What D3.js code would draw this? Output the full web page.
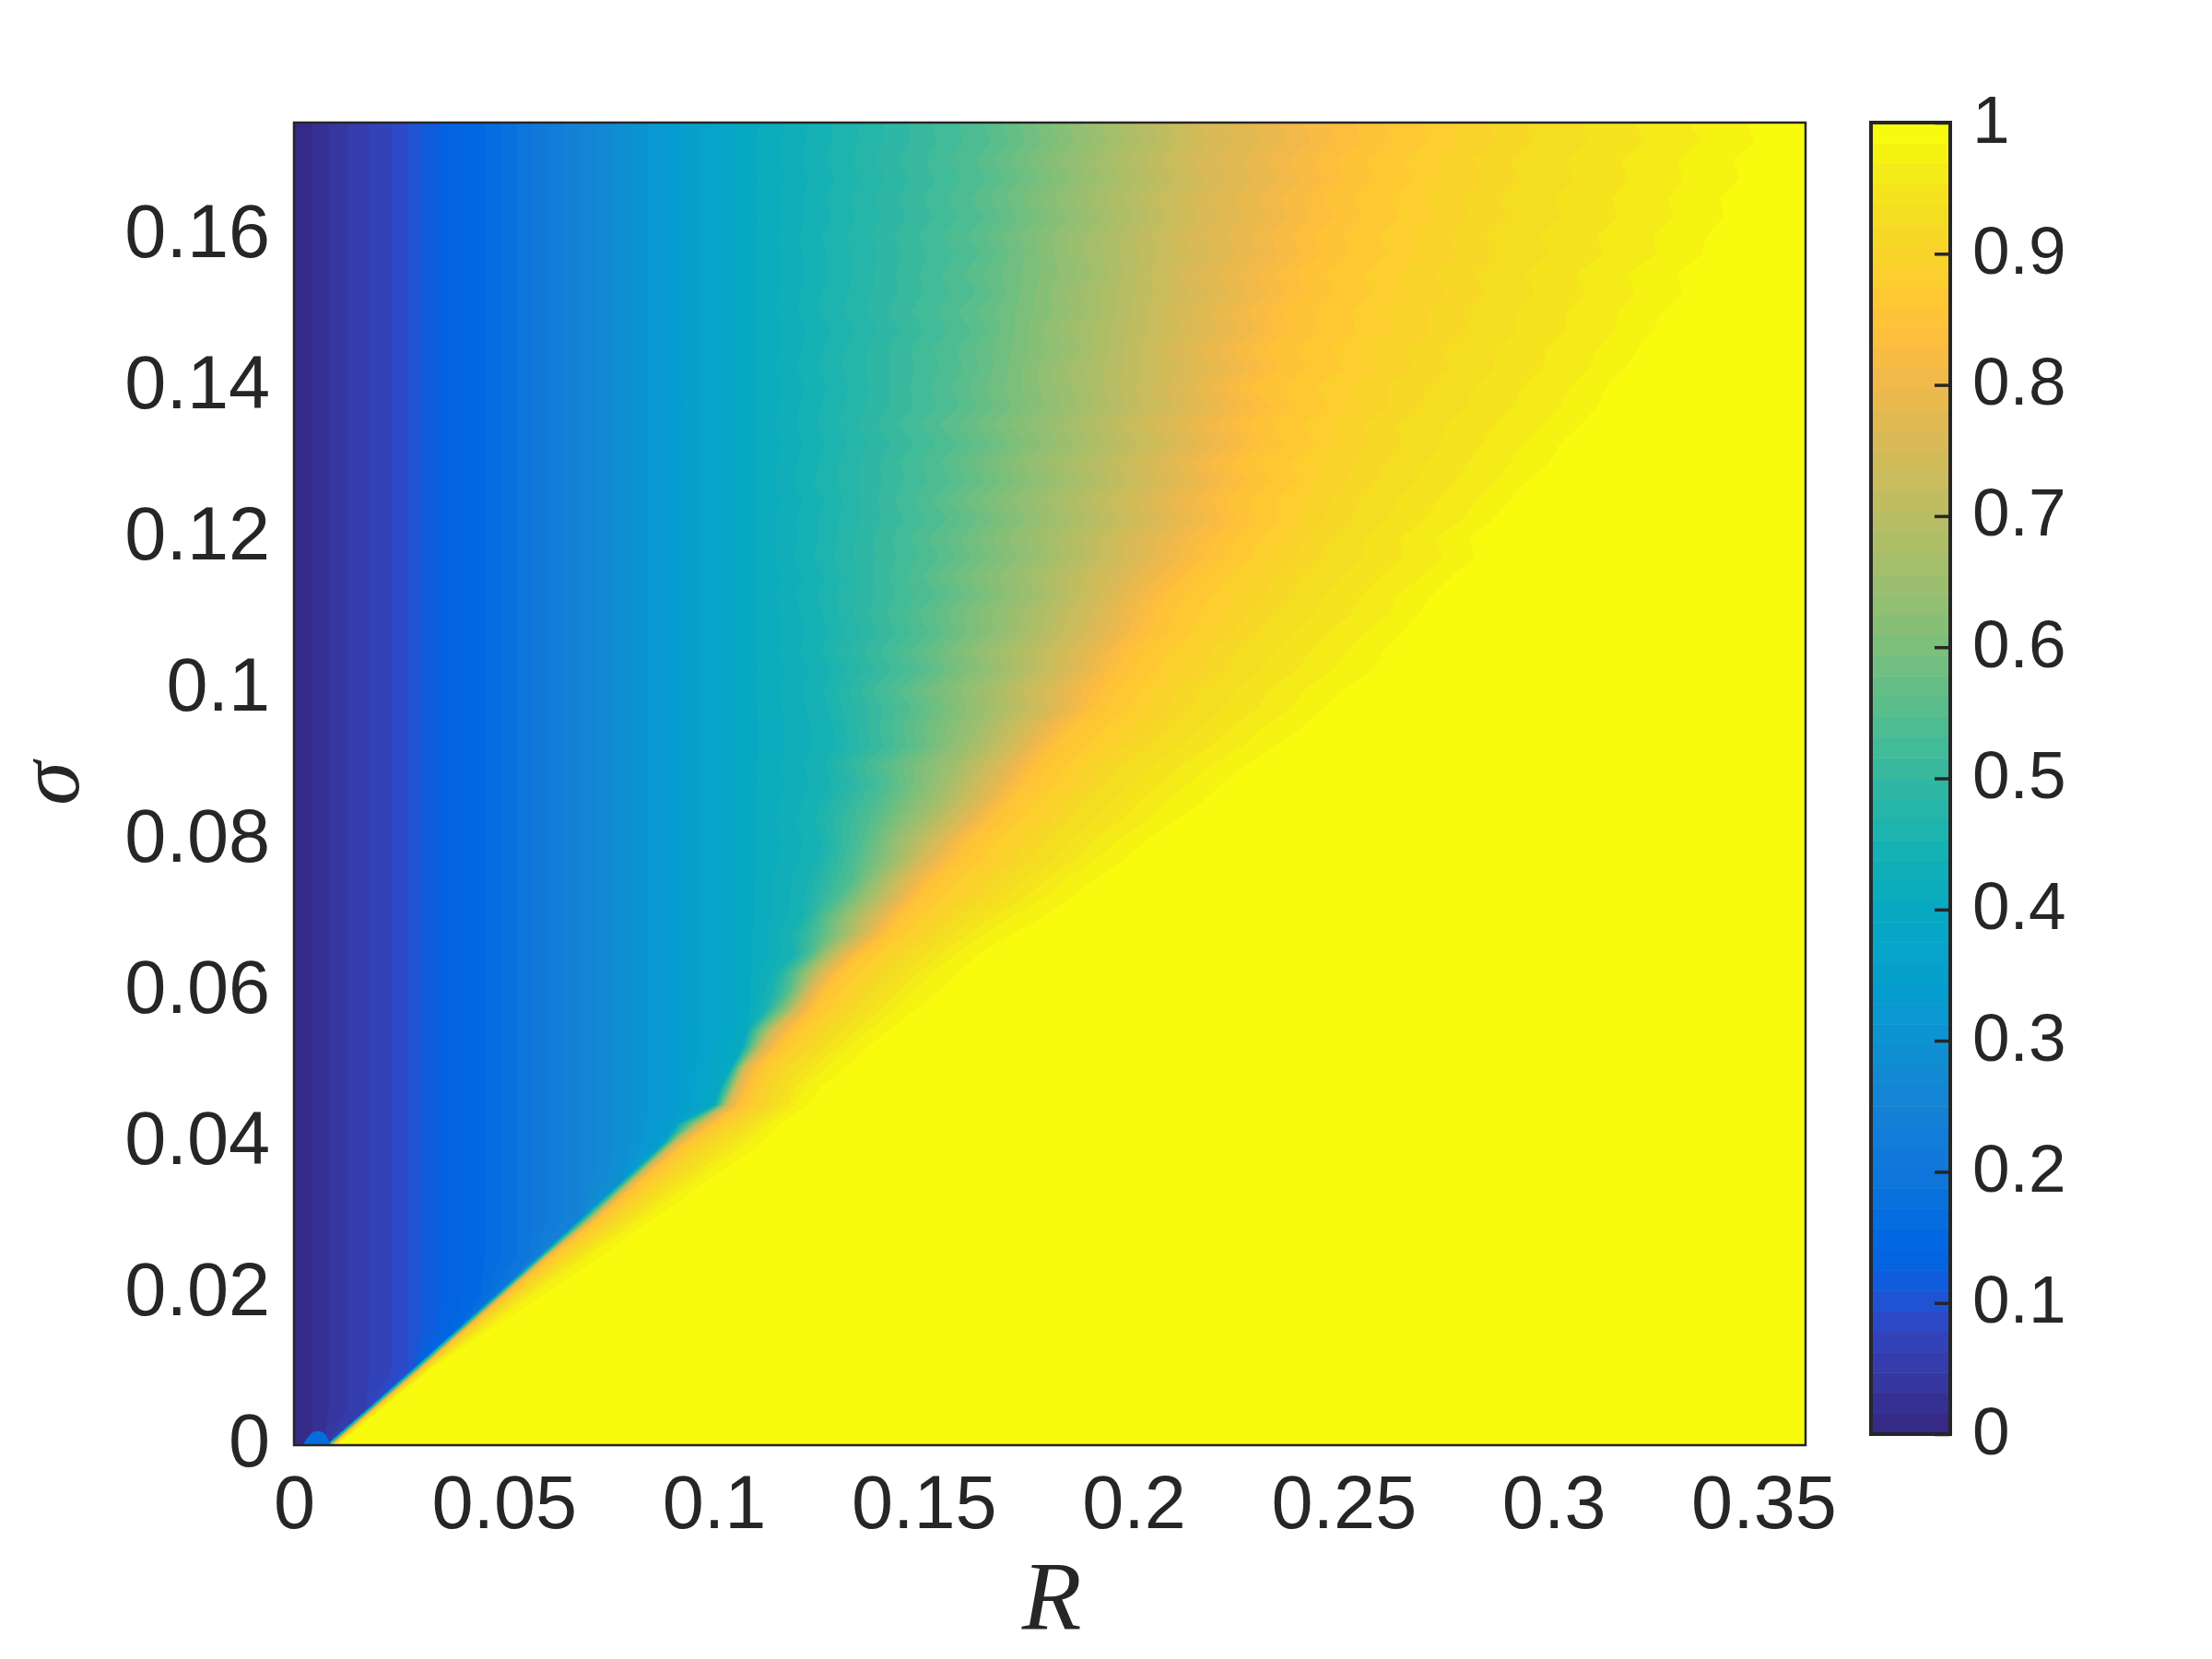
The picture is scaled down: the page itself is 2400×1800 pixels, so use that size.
<!DOCTYPE html>
<html>
<head>
<meta charset="utf-8">
<script src="https://d3js.org/d3.v7.min.js"></script>
<style>
html, body { margin: 0; padding: 0; background: #fff; }
text { font-family: "Liberation Sans", Arial, sans-serif; fill: #262626; }
.math { font-family: "Liberation Serif", serif; font-style: italic; }
</style>
</head>
<body>
<div id="chart"></div>
<script>
const xTicks = [0, 0.05, 0.1, 0.15, 0.2, 0.25, 0.3, 0.35];
const xTickLabels = ["0", "0.05", "0.1", "0.15", "0.2", "0.25", "0.3", "0.35"];
const yTicks = [0, 0.02, 0.04, 0.06, 0.08, 0.1, 0.12, 0.14, 0.16];
const yTickLabels = ["0", "0.02", "0.04", "0.06", "0.08", "0.1", "0.12", "0.14", "0.16"];
const barTicks = [0, 0.1, 0.2, 0.3, 0.4, 0.5, 0.6, 0.7, 0.8, 0.9, 1];
const barTickLabels = ["0", "0.1", "0.2", "0.3", "0.4", "0.5", "0.6", "0.7", "0.8", "0.9", "1"];

// parula, 64 steps
const parula = [
[0.2081,0.1663,0.5292],[0.2116,0.1898,0.5777],[0.2123,0.2138,0.6270],[0.2081,0.2386,0.6771],
[0.1959,0.2645,0.7279],[0.1707,0.2919,0.7792],[0.1253,0.3242,0.8303],[0.0591,0.3598,0.8683],
[0.0117,0.3875,0.8820],[0.0060,0.4086,0.8828],[0.0165,0.4266,0.8786],[0.0329,0.4430,0.8720],
[0.0498,0.4586,0.8641],[0.0629,0.4737,0.8554],[0.0723,0.4887,0.8467],[0.0779,0.5040,0.8384],
[0.0793,0.5200,0.8312],[0.0749,0.5375,0.8263],[0.0641,0.5570,0.8240],[0.0488,0.5772,0.8228],
[0.0343,0.5966,0.8199],[0.0265,0.6137,0.8135],[0.0239,0.6287,0.8038],[0.0231,0.6418,0.7913],
[0.0228,0.6535,0.7768],[0.0267,0.6642,0.7607],[0.0384,0.6743,0.7436],[0.0590,0.6838,0.7254],
[0.0843,0.6928,0.7062],[0.1133,0.7015,0.6859],[0.1453,0.7098,0.6646],[0.1801,0.7177,0.6424],
[0.2178,0.7250,0.6193],[0.2586,0.7317,0.5954],[0.3022,0.7376,0.5712],[0.3482,0.7424,0.5473],
[0.3953,0.7459,0.5244],[0.4420,0.7481,0.5033],[0.4871,0.7491,0.4840],[0.5300,0.7491,0.4661],
[0.5709,0.7485,0.4494],[0.6099,0.7473,0.4337],[0.6473,0.7456,0.4188],[0.6834,0.7435,0.4044],
[0.7184,0.7411,0.3905],[0.7525,0.7384,0.3768],[0.7858,0.7356,0.3633],[0.8185,0.7327,0.3498],
[0.8507,0.7299,0.3360],[0.8824,0.7274,0.3217],[0.9139,0.7258,0.3063],[0.9450,0.7261,0.2886],
[0.9739,0.7314,0.2666],[0.9938,0.7455,0.2403],[0.9990,0.7653,0.2164],[0.9955,0.7861,0.1967],
[0.9880,0.8066,0.1794],[0.9789,0.8271,0.1633],[0.9697,0.8481,0.1475],[0.9626,0.8705,0.1309],
[0.9589,0.8949,0.1132],[0.9598,0.9218,0.0948],[0.9661,0.9514,0.0755],[0.9763,0.9831,0.0538]
];

// value against R where the surface only depends on R (left part)
const profileLevels = [0, 0.02, 0.04, 0.06, 0.08, 0.10, 0.12, 0.15, 0.20, 0.25, 0.30, 0.35, 0.40];
const profileR = [0, 0.0055, 0.0105, 0.017, 0.024, 0.0285, 0.033, 0.044, 0.056, 0.068, 0.081, 0.094, 0.108];

// sigma of each row
const sigmaRows = [0,0.005,0.01,0.015,0.02,0.025,0.03,0.035,
0.04,0.0425,0.045,0.0475,0.05,0.0525,0.055,0.0575,0.06,0.0625,0.065,0.0675,0.07,0.0725,0.075,0.0775,
0.08,0.0825,0.085,0.0875,0.09,0.0925,0.095,0.0975,0.1,0.1025,0.105,0.1075,0.11,0.1125,0.115,0.1175,
0.12,0.1225,0.125,0.1275,0.13,0.1325,0.135,0.1375,0.14,0.1425,0.145,0.1475,0.15,0.1525,0.155,0.1575,
0.16,0.1625,0.165,0.1675,0.17,0.1725,0.175];

// R at which each row reaches a given value
const iso45 = [0.0082,0.0186,0.0288,0.0389,0.0490,0.0590,0.0690,0.0788,
0.0885,0.092,0.1005,0.102,0.1045,0.107,0.1085,0.112,0.1135,0.115,0.119,0.118,0.121,0.1215,0.122,0.1245,
0.1255,0.1235,0.125,0.1275,0.126,0.1285,0.128,0.1265,0.1255,0.1275,0.1245,0.1265,0.125,0.1235,0.1255,0.1225,
0.124,0.1235,0.1255,0.1225,0.124,0.1255,0.1235,0.1245,0.126,0.1235,0.125,0.1265,0.124,0.1245,0.1265,0.1255,
0.1245,0.1265,0.1255,0.1275,0.1255,0.1265,0.127];
const iso55 = [0.0085,0.0189,0.0292,0.0393,0.0494,0.0595,0.0698,0.0795,
0.0893,0.094,0.1015,0.1035,0.1055,0.1085,0.1105,0.1145,0.118,0.119,0.1235,0.1255,0.1265,0.1305,0.1335,0.1345,
0.136,0.1375,0.14,0.1425,0.1405,0.1465,0.1455,0.1475,0.1445,0.15,0.1475,0.152,0.1495,0.1535,0.1505,0.1545,
0.152,0.1565,0.1525,0.1575,0.155,0.159,0.1545,0.1595,0.1575,0.1605,0.1585,0.1625,0.159,0.1635,0.1605,0.1645,
0.1615,0.1655,0.1625,0.166,0.1635,0.167,0.1655];
const iso65 = [0.0087,0.0191,0.0295,0.0396,0.0497,0.0598,0.0705,0.0802,
0.09,0.0955,0.1025,0.1045,0.1065,0.11,0.1125,0.1175,0.1205,0.1225,0.1265,0.131,0.1325,0.1365,0.1395,0.1435,
0.1445,0.1485,0.152,0.1545,0.1565,0.1605,0.1625,0.1645,0.1635,0.1685,0.1665,0.1715,0.172,0.1755,0.1735,0.1785,
0.1765,0.1805,0.1775,0.1825,0.1795,0.1845,0.1815,0.1855,0.184,0.1825,0.1865,0.1835,0.188,0.1855,0.1895,0.1865,
0.187,0.1905,0.1875,0.1915,0.189,0.1925,0.19];
const iso75 = [0.0089,0.0193,0.0298,0.0399,0.05,0.0602,0.0712,0.081,
0.091,0.097,0.1035,0.1055,0.1075,0.1115,0.1145,0.1195,0.1225,0.1255,0.13,0.1355,0.1385,0.1425,0.1455,0.1495,
0.153,0.1575,0.162,0.1645,0.1675,0.1715,0.1745,0.1795,0.1785,0.1835,0.1845,0.1885,0.19,0.1925,0.1945,0.198,
0.1985,0.2035,0.2005,0.2055,0.2035,0.2085,0.2045,0.2095,0.208,0.2105,0.2075,0.212,0.2095,0.2135,0.2105,0.2145,
0.212,0.2155,0.2135,0.2175,0.2145,0.218,0.216];
const iso85 = [0.0092,0.0197,0.0302,0.0404,0.051,0.0612,0.0725,0.0828,
0.0935,0.1,0.1065,0.1085,0.1105,0.115,0.119,0.1235,0.1265,0.13,0.135,0.141,0.1445,0.149,0.1525,0.158,
0.161,0.1665,0.17,0.1745,0.1775,0.1815,0.1855,0.191,0.1935,0.197,0.1995,0.205,0.206,0.209,0.2135,0.2185,
0.221,0.226,0.2235,0.2295,0.2255,0.232,0.2285,0.2345,0.2295,0.2365,0.2335,0.239,0.2375,0.2425,0.2405,0.2465,
0.245,0.2495,0.2475,0.2525,0.2505,0.2565,0.255];
const iso92 = [0.0095,0.0202,0.031,0.0422,0.0535,0.0655,0.078,0.089,
0.1,0.107,0.1135,0.1155,0.118,0.1235,0.1275,0.133,0.137,0.1415,0.146,0.1525,0.1575,0.1645,0.169,0.1755,
0.178,0.1835,0.187,0.1925,0.1965,0.2025,0.208,0.2125,0.215,0.2205,0.2235,0.2285,0.232,0.2365,0.2385,0.2435,
0.246,0.2505,0.2525,0.2565,0.2585,0.2625,0.2615,0.2675,0.268,0.2735,0.2725,0.278,0.2775,0.2825,0.2795,0.285,
0.282,0.2875,0.2855,0.2905,0.288,0.2935,0.292];
const iso97 = [0.01,0.021,0.032,0.0445,0.057,0.07,0.083,0.0955,
0.108,0.113,0.1195,0.122,0.127,0.132,0.1375,0.143,0.148,0.1525,0.158,0.1645,0.1715,0.1795,0.1845,0.1915,
0.1965,0.2035,0.208,0.2135,0.219,0.2265,0.2315,0.238,0.2415,0.248,0.2515,0.2555,0.262,0.2635,0.2695,0.2745,
0.2725,0.279,0.2825,0.287,0.2905,0.2935,0.2985,0.3025,0.305,0.3095,0.3115,0.3155,0.3165,0.3205,0.3185,0.3255,
0.325,0.3295,0.3285,0.332,0.3305,0.3365,0.333];
const iso995 = [0.0105,0.0218,0.033,0.047,0.062,0.0755,0.088,0.101,
0.114,0.118,0.1245,0.1285,0.135,0.139,0.1455,0.151,0.158,0.1625,0.167,0.175,0.1845,0.1895,0.196,0.2025,
0.2075,0.2145,0.222,0.2265,0.233,0.2395,0.2465,0.2505,0.2565,0.2635,0.2655,0.27,0.272,0.277,0.2805,0.2865,
0.2855,0.2905,0.2945,0.2985,0.3055,0.3075,0.3125,0.3165,0.318,0.3225,0.3265,0.3295,0.3335,0.3385,0.3375,0.3425,
0.345,0.349,0.348,0.3535,0.352,0.3565,0.356];
const rowLevels = [0.45, 0.55, 0.65, 0.75, 0.85, 0.92, 0.97, 0.995];
const rowCurves = [iso45, iso55, iso65, iso75, iso85, iso92, iso97, iso995];

// small blue patch at the bottom left corner
const patchR = [0.002, 0.0035, 0.0045, 0.0075, 0.0086];
const patchSigma = [0, 0.0012, 0.0019, 0.0019, 0];
const patchValue = 0.16;

const width = 2400, height = 1800;
const plot = { left: 319, right: 1959, top: 133, bottom: 1568 };
const bar = { left: 2030, right: 2116, top: 133, bottom: 1556 };
const ink = "#262626";

const x = d3.scaleLinear().domain([0, 0.36]).range([plot.left, plot.right]);
const y = d3.scaleLinear().domain([0, 0.175]).range([plot.bottom, plot.top]);
const barY = d3.scaleLinear().domain([0, 1]).range([bar.bottom, bar.top]);

const colourAt = i => d3.rgb(parula[i][0] * 255, parula[i][1] * 255, parula[i][2] * 255).formatHex();

const svg = d3.select("#chart").append("svg")
    .attr("width", width)
    .attr("height", height)
    .style("display", "block");

svg.append("clipPath").attr("id", "plot-clip")
    .append("rect")
    .attr("x", plot.left).attr("y", plot.top)
    .attr("width", plot.right - plot.left).attr("height", plot.bottom - plot.top);

const field = svg.append("g").attr("clip-path", "url(#plot-clip)");

field.append("rect")
    .attr("x", plot.left).attr("y", plot.top)
    .attr("width", plot.right - plot.left).attr("height", plot.bottom - plot.top)
    .attr("fill", colourAt(0));

// R position of every colour step in every row
const rowScale = sigmaRows.map((s, j) => {
    const edge = iso45[j] - 0.0004;
    const domain = profileLevels.concat(rowLevels);
    const range = profileR.map(r => Math.min(r, edge)).concat(rowCurves.map(c => c[j]));
    return d3.scaleLinear().domain(domain).range(range).clamp(true);
});

const band = d3.area()
    .y(d => y(d.sigma))
    .x0(d => x(d.r))
    .x1(x(0.37));

d3.range(1, 64).forEach(k => {
    const rows = sigmaRows.map((s, j) => ({ sigma: s, r: rowScale[j](k / 64) }));
    field.append("path")
        .attr("d", band(rows))
        .attr("fill", colourAt(k))
        .attr("stroke", colourAt(k))
        .attr("stroke-width", 0.5);
});

field.append("path")
    .attr("d", d3.line().x((d, i) => x(d)).y((d, i) => y(patchSigma[i])).curve(d3.curveBasis)(patchR))
    .attr("fill", colourAt(Math.floor(patchValue * 64)));

// frame
svg.append("rect")
    .attr("x", plot.left).attr("y", plot.top)
    .attr("width", plot.right - plot.left).attr("height", plot.bottom - plot.top)
    .attr("fill", "none").attr("stroke", ink).attr("stroke-width", 2.5);

const xAxis = svg.append("g")
    .attr("transform", `translate(0,${plot.bottom})`)
    .call(d3.axisBottom(x).tickValues(xTicks).tickSize(0).tickPadding(0)
        .tickFormat((d, i) => xTickLabels[i]));
xAxis.select(".domain").remove();
xAxis.selectAll("text")
    .attr("y", 90).attr("dy", 0)
    .style("font-size", "81px")
    .attr("fill", ink);

const yAxis = svg.append("g")
    .attr("transform", `translate(${plot.left},0)`)
    .call(d3.axisLeft(y).tickValues(yTicks).tickSize(0).tickPadding(0)
        .tickFormat((d, i) => yTickLabels[i]));
yAxis.select(".domain").remove();
yAxis.selectAll("text")
    .attr("x", -26).attr("dy", 22)
    .style("font-size", "81px")
    .attr("fill", ink);

svg.append("text").attr("class", "math")
    .attr("x", 1141).attr("y", 1767)
    .attr("text-anchor", "middle")
    .style("font-size", "106px")
    .text("R");

svg.append("text").attr("class", "math")
    .attr("transform", "translate(85,850) rotate(-90)")
    .attr("text-anchor", "middle")
    .style("font-size", "96px")
    .text("σ");

// colorbar
svg.append("g").selectAll("rect")
    .data(d3.range(64))
    .join("rect")
    .attr("x", bar.left)
    .attr("width", bar.right - bar.left)
    .attr("y", k => barY((k + 1) / 64))
    .attr("height", k => barY(k / 64) - barY((k + 1) / 64) + 0.5)
    .attr("fill", k => colourAt(k));

const barAxis = svg.append("g")
    .attr("transform", `translate(${bar.right},0)`)
    .call(d3.axisRight(barY).tickValues(barTicks).tickSizeInner(-17).tickSizeOuter(0).tickPadding(0)
        .tickFormat((d, i) => barTickLabels[i]));
barAxis.select(".domain").remove();
barAxis.selectAll("line").attr("stroke", ink).attr("stroke-width", 3.5);
barAxis.selectAll("text")
    .attr("x", 24).attr("dy", 21)
    .attr("text-anchor", "start")
    .style("font-size", "73px")
    .attr("fill", ink);

svg.append("rect")
    .attr("x", bar.left).attr("y", bar.top)
    .attr("width", bar.right - bar.left).attr("height", bar.bottom - bar.top)
    .attr("fill", "none").attr("stroke", ink).attr("stroke-width", 4);
</script>
</body>
</html>
